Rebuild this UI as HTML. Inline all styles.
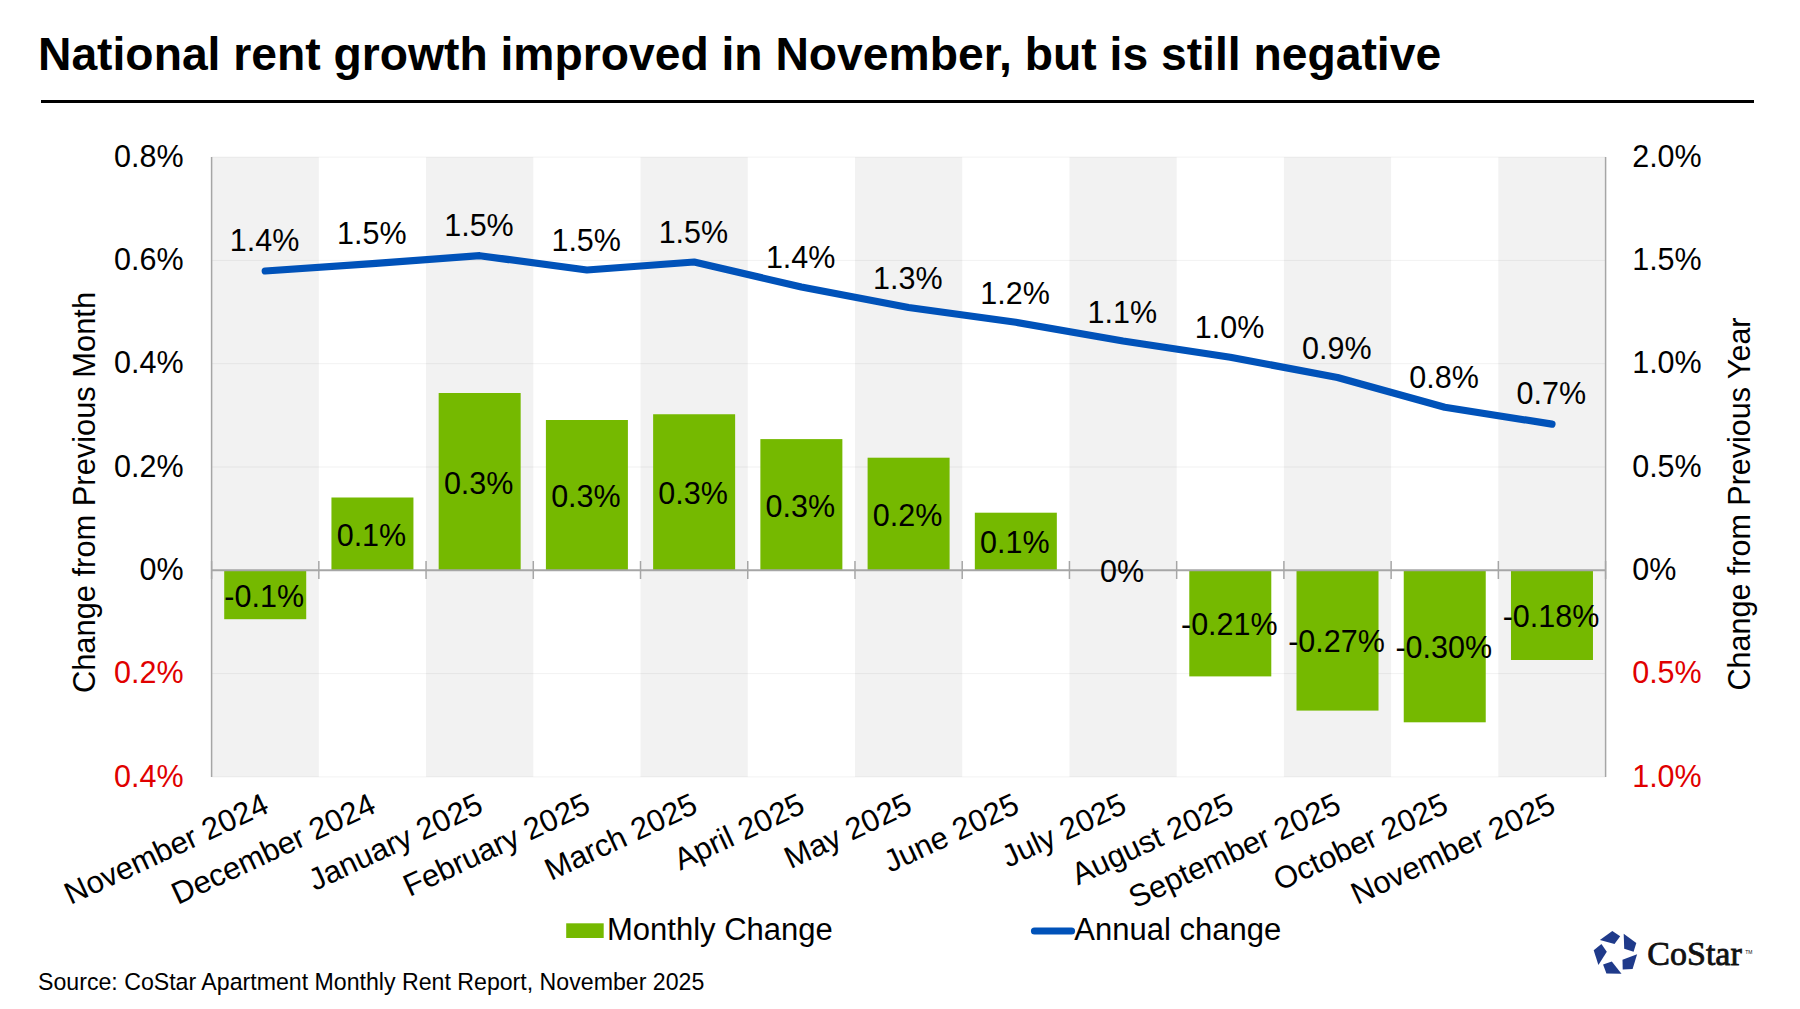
<!DOCTYPE html>
<html><head><meta charset="utf-8"><title>National rent growth</title>
<style>
html,body{margin:0;padding:0;background:#fff;}
body{width:1800px;height:1009px;position:relative;overflow:hidden;font-family:"Liberation Sans",sans-serif;color:#000;}
.rule{position:absolute;left:41px;top:100px;width:1713px;height:3px;background:#000;}
svg text{font-family:"Liberation Sans",sans-serif;font-size:30.5px;}
</style></head><body>
<div class="rule"></div>
<svg style="position:absolute;left:0;top:0" width="1800" height="1009" viewBox="0 0 1800 1009" fill="#000">
<rect x="211.60" y="157.1" width="107.23" height="619.8" fill="#f2f2f2"/>
<rect x="426.06" y="157.1" width="107.23" height="619.8" fill="#f2f2f2"/>
<rect x="640.52" y="157.1" width="107.23" height="619.8" fill="#f2f2f2"/>
<rect x="854.98" y="157.1" width="107.23" height="619.8" fill="#f2f2f2"/>
<rect x="1069.44" y="157.1" width="107.23" height="619.8" fill="#f2f2f2"/>
<rect x="1283.90" y="157.1" width="107.23" height="619.8" fill="#f2f2f2"/>
<rect x="1498.36" y="157.1" width="107.23" height="619.8" fill="#f2f2f2"/>
<line x1="211.6" y1="157.10" x2="1605.59" y2="157.10" stroke="#000" stroke-opacity="0.055" stroke-width="1"/>
<line x1="211.6" y1="260.40" x2="1605.59" y2="260.40" stroke="#000" stroke-opacity="0.055" stroke-width="1"/>
<line x1="211.6" y1="363.70" x2="1605.59" y2="363.70" stroke="#000" stroke-opacity="0.055" stroke-width="1"/>
<line x1="211.6" y1="467.00" x2="1605.59" y2="467.00" stroke="#000" stroke-opacity="0.055" stroke-width="1"/>
<line x1="211.6" y1="673.60" x2="1605.59" y2="673.60" stroke="#000" stroke-opacity="0.055" stroke-width="1"/>
<line x1="211.6" y1="776.90" x2="1605.59" y2="776.90" stroke="#000" stroke-opacity="0.055" stroke-width="1"/>
<rect x="224.21" y="570.30" width="82.0" height="48.90" fill="#75b900"/>
<rect x="331.44" y="497.50" width="82.0" height="72.80" fill="#75b900"/>
<rect x="438.67" y="393.00" width="82.0" height="177.30" fill="#75b900"/>
<rect x="545.90" y="420.00" width="82.0" height="150.30" fill="#75b900"/>
<rect x="653.13" y="414.25" width="82.0" height="156.05" fill="#75b900"/>
<rect x="760.37" y="439.10" width="82.0" height="131.20" fill="#75b900"/>
<rect x="867.60" y="457.70" width="82.0" height="112.60" fill="#75b900"/>
<rect x="974.83" y="512.70" width="82.0" height="57.60" fill="#75b900"/>
<rect x="1189.29" y="570.30" width="82.0" height="106.10" fill="#75b900"/>
<rect x="1296.51" y="570.30" width="82.0" height="140.30" fill="#75b900"/>
<rect x="1403.74" y="570.30" width="82.0" height="152.00" fill="#75b900"/>
<rect x="1510.97" y="570.30" width="82.0" height="89.70" fill="#75b900"/>
<line x1="211.6" y1="157.1" x2="211.6" y2="776.9" stroke="#a6a6a6" stroke-width="1.5"/>
<line x1="1605.59" y1="157.1" x2="1605.59" y2="776.9" stroke="#a6a6a6" stroke-width="1.5"/>
<line x1="211.6" y1="570.3" x2="1605.59" y2="570.3" stroke="#a6a6a6" stroke-width="2"/>
<line x1="211.60" y1="561" x2="211.60" y2="579" stroke="#a6a6a6" stroke-width="1.5"/>
<line x1="318.83" y1="561" x2="318.83" y2="579" stroke="#a6a6a6" stroke-width="1.5"/>
<line x1="426.06" y1="561" x2="426.06" y2="579" stroke="#a6a6a6" stroke-width="1.5"/>
<line x1="533.29" y1="561" x2="533.29" y2="579" stroke="#a6a6a6" stroke-width="1.5"/>
<line x1="640.52" y1="561" x2="640.52" y2="579" stroke="#a6a6a6" stroke-width="1.5"/>
<line x1="747.75" y1="561" x2="747.75" y2="579" stroke="#a6a6a6" stroke-width="1.5"/>
<line x1="854.98" y1="561" x2="854.98" y2="579" stroke="#a6a6a6" stroke-width="1.5"/>
<line x1="962.21" y1="561" x2="962.21" y2="579" stroke="#a6a6a6" stroke-width="1.5"/>
<line x1="1069.44" y1="561" x2="1069.44" y2="579" stroke="#a6a6a6" stroke-width="1.5"/>
<line x1="1176.67" y1="561" x2="1176.67" y2="579" stroke="#a6a6a6" stroke-width="1.5"/>
<line x1="1283.90" y1="561" x2="1283.90" y2="579" stroke="#a6a6a6" stroke-width="1.5"/>
<line x1="1391.13" y1="561" x2="1391.13" y2="579" stroke="#a6a6a6" stroke-width="1.5"/>
<line x1="1498.36" y1="561" x2="1498.36" y2="579" stroke="#a6a6a6" stroke-width="1.5"/>
<line x1="1605.59" y1="561" x2="1605.59" y2="579" stroke="#a6a6a6" stroke-width="1.5"/>
<polyline points="265.21,271.00 372.44,263.60 479.67,255.70 586.90,270.00 694.13,262.00 801.37,287.00 908.60,307.50 1015.83,322.30 1123.06,341.00 1230.29,357.20 1337.51,377.50 1444.74,407.30 1551.97,424.10" fill="none" stroke="#0052b9" stroke-width="7.2" stroke-linejoin="round" stroke-linecap="round"/>
<text x="264.51" y="250.80" text-anchor="middle">1.4%</text>
<text x="371.75" y="244.10" text-anchor="middle">1.5%</text>
<text x="478.97" y="236.20" text-anchor="middle">1.5%</text>
<text x="586.20" y="250.50" text-anchor="middle">1.5%</text>
<text x="693.43" y="242.50" text-anchor="middle">1.5%</text>
<text x="800.66" y="267.50" text-anchor="middle">1.4%</text>
<text x="907.89" y="289.00" text-anchor="middle">1.3%</text>
<text x="1015.12" y="303.60" text-anchor="middle">1.2%</text>
<text x="1122.36" y="323.00" text-anchor="middle">1.1%</text>
<text x="1229.59" y="337.70" text-anchor="middle">1.0%</text>
<text x="1336.81" y="358.50" text-anchor="middle">0.9%</text>
<text x="1444.04" y="387.80" text-anchor="middle">0.8%</text>
<text x="1551.27" y="403.80" text-anchor="middle">0.7%</text>
<text x="264.21" y="606.67" text-anchor="middle">-0.1%</text>
<text x="371.44" y="545.82" text-anchor="middle">0.1%</text>
<text x="478.67" y="493.57" text-anchor="middle">0.3%</text>
<text x="585.90" y="507.07" text-anchor="middle">0.3%</text>
<text x="693.13" y="504.19" text-anchor="middle">0.3%</text>
<text x="800.37" y="516.62" text-anchor="middle">0.3%</text>
<text x="907.60" y="525.92" text-anchor="middle">0.2%</text>
<text x="1014.83" y="553.42" text-anchor="middle">0.1%</text>
<text x="1122.06" y="582.22" text-anchor="middle">0%</text>
<text x="1229.29" y="635.27" text-anchor="middle">-0.21%</text>
<text x="1336.51" y="652.37" text-anchor="middle">-0.27%</text>
<text x="1443.74" y="658.22" text-anchor="middle">-0.30%</text>
<text x="1550.97" y="627.07" text-anchor="middle">-0.18%</text>
<text x="183.6" y="166.72" text-anchor="end" fill="#000">0.8%</text>
<text x="1632.2" y="166.72" fill="#000">2.0%</text>
<text x="183.6" y="270.02" text-anchor="end" fill="#000">0.6%</text>
<text x="1632.2" y="270.02" fill="#000">1.5%</text>
<text x="183.6" y="373.32" text-anchor="end" fill="#000">0.4%</text>
<text x="1632.2" y="373.32" fill="#000">1.0%</text>
<text x="183.6" y="476.62" text-anchor="end" fill="#000">0.2%</text>
<text x="1632.2" y="476.62" fill="#000">0.5%</text>
<text x="183.6" y="579.92" text-anchor="end" fill="#000">0%</text>
<text x="1632.2" y="579.92" fill="#000">0%</text>
<text x="183.6" y="683.22" text-anchor="end" fill="#e00000">0.2%</text>
<text x="1632.2" y="683.22" fill="#e00000">0.5%</text>
<text x="183.6" y="786.52" text-anchor="end" fill="#e00000">0.4%</text>
<text x="1632.2" y="786.52" fill="#e00000">1.0%</text>
<text transform="translate(94.5,492.5) rotate(-90)" text-anchor="middle" style="font-size:30.85px">Change from Previous Month</text>
<text transform="translate(1749.6,504) rotate(-90)" text-anchor="middle">Change from Previous Year</text>
<text transform="translate(270.51,811.80) rotate(-25)" text-anchor="end" style="font-size:31px">November 2024</text>
<text transform="translate(377.75,811.80) rotate(-25)" text-anchor="end" style="font-size:31px">December 2024</text>
<text transform="translate(484.97,811.80) rotate(-25)" text-anchor="end" style="font-size:31px">January 2025</text>
<text transform="translate(592.20,811.80) rotate(-25)" text-anchor="end" style="font-size:31px">February 2025</text>
<text transform="translate(699.43,811.80) rotate(-25)" text-anchor="end" style="font-size:31px">March 2025</text>
<text transform="translate(806.66,811.80) rotate(-25)" text-anchor="end" style="font-size:31px">April 2025</text>
<text transform="translate(913.89,811.80) rotate(-25)" text-anchor="end" style="font-size:31px">May 2025</text>
<text transform="translate(1021.12,811.80) rotate(-25)" text-anchor="end" style="font-size:31px">June 2025</text>
<text transform="translate(1128.36,811.80) rotate(-25)" text-anchor="end" style="font-size:31px">July 2025</text>
<text transform="translate(1235.59,811.80) rotate(-25)" text-anchor="end" style="font-size:31px">August 2025</text>
<text transform="translate(1342.81,811.80) rotate(-25)" text-anchor="end" style="font-size:31px">September 2025</text>
<text transform="translate(1450.04,811.80) rotate(-25)" text-anchor="end" style="font-size:31px">October 2025</text>
<text transform="translate(1557.27,811.80) rotate(-25)" text-anchor="end" style="font-size:31px">November 2025</text>
<rect x="566.2" y="923.3" width="37.5" height="14.7" fill="#75b900"/>
<text x="607" y="940" style="font-size:31px">Monthly Change</text>
<line x1="1034.5" y1="931" x2="1071.5" y2="931" stroke="#0052b9" stroke-width="7.2" stroke-linecap="round"/>
<text x="1074.3" y="940" style="font-size:31px">Annual change</text>
<text x="38" y="69.7" style="font-weight:bold;font-size:46.26px">National rent growth improved in November, but is still negative</text>
<text x="38" y="989.5" style="font-size:23.15px">Source: CoStar Apartment Monthly Rent Report, November 2025</text>
<text x="1647.3" y="965.3" style="font-family:Liberation Serif,serif;font-size:34px" fill="#111" stroke="#111" stroke-width="0.8">CoStar</text>
<text x="1745.3" y="953.6" style="font-size:5px" fill="#111">TM</text>
</svg>
<svg style="position:absolute;left:1590px;top:928px" width="50" height="50" viewBox="0 0 50 50">
<g fill="#1f3a8a">
<polygon points="9.9,11.9 22.3,3.0 30.2,8.2 24.5,15.9"/>
<polygon points="33.7,5.7 46.3,14.9 43.6,23.8 34.2,20.8"/>
<polygon points="32.5,31.7 47.1,26.3 42.6,41.1 32.7,41.4"/>
<polygon points="13.1,36.4 21.8,33.4 31.5,45.8 16.4,45.6"/>
<polygon points="3.7,22.3 11.4,16.1 16.8,23.8 8.4,36.9"/>
</g></svg>
</body></html>
